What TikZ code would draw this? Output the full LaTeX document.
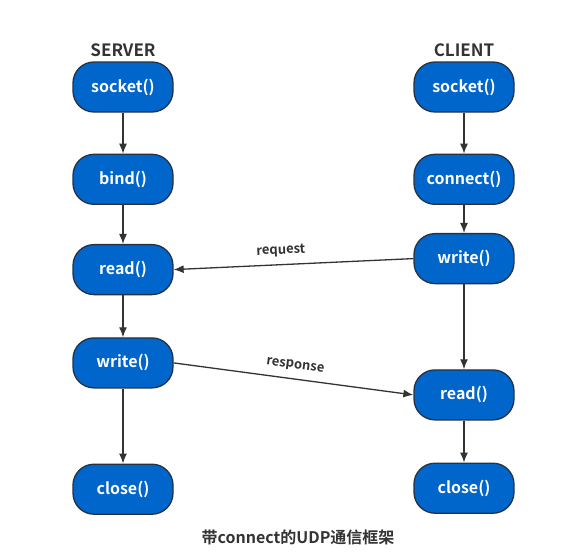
\documentclass[tikz,border=0pt]{standalone}
\usepackage{fontspec}
\setmainfont{Noto Sans CJK SC}[BoldFont = Noto Sans CJK SC Bold]
\usepackage{tikz}
\usetikzlibrary{positioning, arrows.meta}
\definecolor{myboxblue}{RGB}{0, 102, 204}
\definecolor{myborder}{RGB}{38, 50, 66}
\definecolor{mydarkgrey}{RGB}{51, 51, 51}

\begin{document}
\begin{tikzpicture}[x = 1pt, y = 1pt, node distance = 41pt, line width = 1.3pt,
  call/.style = {draw = myborder, fill = myboxblue, text = white, font = \bfseries\fontsize{16}{18}\selectfont,
    minimum width = 100pt, minimum height = 50pt, rounded corners = 21pt, inner sep = 0pt},
  side/.style = {text = mydarkgrey, font = \bfseries\fontsize{17}{19}\selectfont},
  flow/.style = {draw = mydarkgrey, -{Latex[length = 10pt, width = 8pt]}},
  msg/.style = {text = mydarkgrey, font = \bfseries\fontsize{13}{15}\selectfont, sloped, above = 4pt}]
  \useasboundingbox (0, 0) rectangle (582, -557);

  % server nodes
  \node [call] at (123, -87) (s_socket) {socket()};
  \node [call][below = of s_socket] (s_bind) {bind()};
  \node [call][below = 39pt of s_bind] (s_read) {read()};
  \node [call][below = 42pt of s_read] (s_write) {write()};
  \node [call][below = 75pt of s_write] (s_close) {close()};
  \node [side][above = 1pt of s_socket] (server) {SERVER};

  % client nodes
  \node [call] at (464, -87) (c_socket) {socket()};
  \node [call][below = of c_socket] (c_connect) {connect()};
  \node [call][below = 28pt of c_connect] (c_write) {write()};
  \node [call][below = 85pt of c_write] (c_read) {read()};
  \node [call][below = 42pt of c_read] (c_close) {close()};
  \node [side][above = 1pt of c_socket] (client) {CLIENT};

  % edges
  \draw [flow] (s_socket) to (s_bind);
  \draw [flow] (s_bind) to (s_read);
  \draw [flow] (s_read) to (s_write);
  \draw [flow] (s_write) to (s_close);
  \draw [flow] (c_socket) to (c_connect);
  \draw [flow] (c_connect) to (c_write);
  \draw [flow] (c_write) to (c_read);
  \draw [flow] (c_read) to (c_close);

  % messages
  \draw [flow] (c_write.west) to node [msg, pos = 0.55] {request} (s_read.east);
  \draw [flow] (s_write.east) to node [msg, pos = 0.5] {response} (c_read.west);

  % title
  \node [side, font = \bfseries\fontsize{16}{18}\selectfont] at (298, -537) (title) {带connect的UDP通信框架};
\end{tikzpicture}
\end{document}
